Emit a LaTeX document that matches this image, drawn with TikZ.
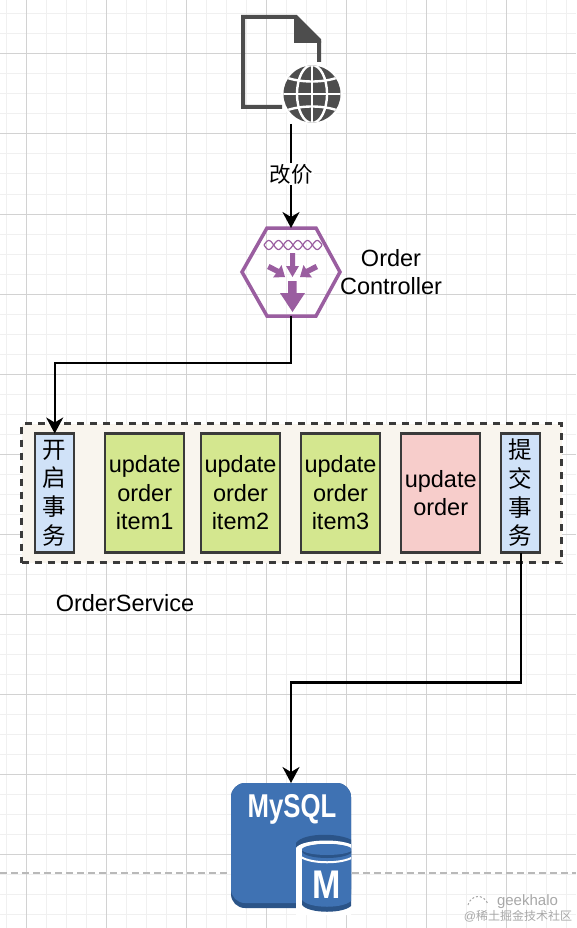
\documentclass[tikz,border=0pt]{standalone}
\usepackage{fontspec}
\setmainfont{Liberation Sans}
\newfontfamily\cjk{Noto Sans CJK SC}
\usetikzlibrary{arrows.meta,positioning,calc}
\definecolor{gridminor}{HTML}{F0F0F0}
\definecolor{gridmajor}{HTML}{D2D2D2}
\definecolor{icongray}{HTML}{4D4D4D}
\definecolor{ctrlpurple}{HTML}{9A5EA0}
\definecolor{boxstroke}{HTML}{3A3A3A}
\definecolor{svcfill}{HTML}{F9F5EE}
\definecolor{txblue}{HTML}{D0E2F8}
\definecolor{itemgreen}{HTML}{D4E78F}
\definecolor{itemred}{HTML}{F7CDCB}
\definecolor{dbblue}{HTML}{3F72B3}
\definecolor{dbdark}{HTML}{2B5488}
\definecolor{markgray}{HTML}{A8A8A8}
\tikzset{
  label23/.style={font=\fontsize{23.5}{28.5}\selectfont,align=center,inner sep=0pt},
  iconbox/.style={inner sep=0pt,outer sep=0pt},
  svcbox/.style={draw=boxstroke,fill=svcfill,line width=2.2pt,dash pattern=on 7pt off 6pt,minimum width=540,minimum height=139,inner sep=0pt,outer sep=0pt},
  txbox/.style={draw=boxstroke,fill=txblue,line width=2.4pt,minimum width=39,minimum height=119,align=center,inner sep=0pt,outer sep=0pt,font=\cjk\fontsize{23.5}{28.7}\selectfont},
  itembox/.style={draw=boxstroke,line width=2.4pt,minimum width=79,minimum height=119,label23,outer sep=0pt},
  flow/.style={-{Stealth[length=16pt,width=17pt,inset=5pt]},line width=2.2pt,black},
}
\begin{document}
\begin{tikzpicture}[x=1pt,y=-1pt]
\useasboundingbox (0,0) rectangle (576,928);
% grid
\fill[white] (0,0) rectangle (576,928);
\foreach \x in {6,26,...,566} \draw[gridminor,line width=1pt] (\x,0) -- (\x,928);
\foreach \y in {14,34,...,914} \draw[gridminor,line width=1pt] (0,\y) -- (576,\y);
\foreach \x in {26,106,...,506} \draw[gridmajor,line width=1pt] (\x,0) -- (\x,928);
\foreach \y in {54,134,...,854} \draw[gridmajor,line width=1pt] (0,\y) -- (576,\y);
\draw[markgray!80,line width=1.5pt,dash pattern=on 7pt off 4pt] (0,873) -- (576,873);

% web page icon
\node[iconbox,minimum width=100,minimum height=109] (webpage) at (291,69.5) {};
\draw[icongray,line width=4pt,miter limit=2] (282,107) -- (243,107) -- (243,17) -- (296,17) -- (319,40) -- (319,62);
\fill[icongray] (294,17) -- (321,41) -- (321,43) -- (294,43) -- cycle;
\begin{scope}[shift={(312,94)}]
  \fill[white] (0,0) circle[radius=31];
  \fill[icongray] (0,0) circle[radius=28.5];
  \begin{scope}
    \clip (0,0) circle[radius=28.5];
    \draw[white,line width=2.4pt] (0,-30) -- (0,30);
    \draw[white,line width=2.4pt] (0,0) ellipse[x radius=15,y radius=29];
    \draw[white,line width=2.4pt] (-30,0) -- (30,0);
    \draw[white,line width=2.4pt] (-27,-17) .. controls (-12,-11) and (12,-11) .. (27,-17);
    \draw[white,line width=2.4pt] (-27,17) .. controls (-12,11) and (12,11) .. (27,17);
  \end{scope}
\end{scope}

% controller icon
\node[iconbox,minimum width=98,minimum height=88] (ctrl) at (291,272) {};
\draw[ctrlpurple,line width=3.5pt] (ctrl.west) -- (267,228) -- (316,228) -- (ctrl.east) -- (316,316) -- (267,316) -- cycle;
\draw[ctrlpurple,line width=1.2pt] plot[domain=264:322,samples=70] (\x,{245+4.5*sin((\x-264)*18.6)});
\draw[ctrlpurple,line width=1.2pt] plot[domain=264:322,samples=70] (\x,{245-4.5*sin((\x-264)*18.6)});
\fill[ctrlpurple] (290,253) -- (295,253) -- (295,266) -- (299,266) -- (292.5,277) -- (286,266) -- (290,266) -- cycle;
\fill[ctrlpurple] (267,269) -- (269.5,264) -- (279,269) -- (281.5,265) -- (285,277) -- (273,277.5) -- (276,273.5) -- cycle;
\fill[ctrlpurple] (318,269) -- (315.5,264) -- (306,269) -- (303.5,265) -- (300,277) -- (312,277.5) -- (309,273.5) -- cycle;
\fill[ctrlpurple] (288,281) -- (296.5,281) -- (296.5,293) -- (305,293) -- (292.5,312) -- (280,293) -- (288,293) -- cycle;
\node[label23] (ctrllabel) at (391,272) {Order\\Controller};

% order service
\node[svcbox] (svc) at (291.5,493) {};
\node[txbox] (txbegin) at (54.7,493) {开\\启\\事\\务};
\node[itembox,fill=itemgreen] (item1) at (144.7,493) {update\\order\\item1};
\node[itembox,fill=itemgreen] (item2) at (240.5,493) {update\\order\\item2};
\node[itembox,fill=itemgreen] (item3) at (340.5,493) {update\\order\\item3};
\node[itembox,fill=itemred] (item4) at (440.7,493) {update\\order};
\node[txbox] (txcommit) at (520.7,493) {提\\交\\事\\务};
\node[label23] (svclabel) at (125,603) {OrderService};

% mysql icon
\node[iconbox,minimum width=120,minimum height=125] (db) at (291,845.5) {};
\fill[dbdark,rounded corners=14pt] (db.north west) rectangle (db.south east);
\fill[dbblue,rounded corners=14pt] (db.north west) rectangle ($(db.south east)+(0,-5)$);
\node[iconbox,text=white,font=\bfseries\fontsize{33}{33}\selectfont,xscale=.78] (dbname) at (292,809) {MySQL};
\begin{scope}
  \clip (296,830) rectangle (351,915);
  \fill[dbdark] (296,843) .. controls (303,832) and (345,832) .. (356,843) -- (356,855) -- (296,855) -- cycle;
  \fill[white] (296,848) .. controls (302,838) and (350,838) .. (356,848) -- (356,915) -- (296,915) -- cycle;
  \fill[dbdark] (302,851) -- (352,851) -- (352,905) .. controls (345,914) and (309,914) .. (302,905) -- cycle;
  \fill[dbblue] (302,851) -- (352,851) -- (352,900) .. controls (345,909) and (309,909) .. (302,900) -- cycle;
  \fill[dbdark] (327,851) ellipse[x radius=25,y radius=7];
  \fill[dbblue] (327,849.5) ellipse[x radius=25,y radius=5.5];
  \draw[white,line width=2pt] (301,857) .. controls (312,864) and (342,864) .. (353,857);
\end{scope}
\node[iconbox,text=white,font=\bfseries\fontsize{40}{40}\selectfont,xscale=.85] (dbm) at (326.5,885) {M};

% connectors
\draw[flow] (webpage.south) -- node[pos=.48,fill=white,inner sep=1pt,font=\cjk\fontsize{21.5}{21.5}\selectfont] (reprice) {改价} (ctrl.north);
\draw[flow] (ctrl.south) -- ++(0,47) -| (txbegin.north);
\draw[flow] (txcommit.south) -- ++(0,130) -| (db.north);

% watermark
\node[iconbox,text=markgray,font=\fontsize{15}{15}\selectfont] (markname) at (527.5,902) {geekhalo};
\node[iconbox,text=markgray,font=\fontsize{12}{12}\selectfont] (marksite) at (518,916) {@{\cjk 稀土掘金技术社区}};
\draw[markgray,line width=1pt,dash pattern=on 2pt off 2pt] (468,905) .. controls (470,896) and (483,892) .. (488,904);
\end{tikzpicture}
\end{document}
